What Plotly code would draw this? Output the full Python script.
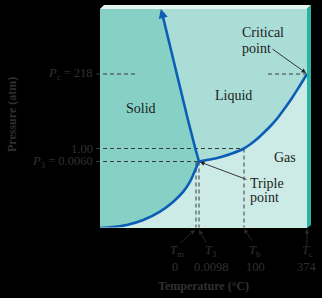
import plotly.graph_objects as go

# Schematic phase diagram of water (not to scale): positions in schematic units
# x: schematic temperature position, y: schematic pressure position
subl_x = [0, 10, 26.7, 43.3, 60, 73.3, 83.3, 90, 95, 99]
subl_y = [0, 0.6, 3, 8, 16.3, 26.3, 36.3, 46.3, 57.5, 66.5]

fus_x = [99, 95.3, 88, 74.6, 63]
fus_y = [66.5, 79.5, 108, 163, 211]
fus_tip = (61, 219)

vap_x = [99, 110, 121, 132, 143, 150, 157, 164, 171, 178, 185, 192, 199, 207]
vap_y = [66.5, 68.5, 71, 74.5, 79, 83.5, 89, 95.5, 102.5, 110.5, 120, 130, 141, 154]

# tick positions (schematic) and labels
t_pos = {"Tm": 96, "T3": 99, "Tb": 144, "Tc": 207}
t_sym = ["<i>T</i><sub>m</sub>", "<i>T</i><sub>3</sub>", "<i>T</i><sub>b</sub>", "<i>T</i><sub>c</sub>"]
t_val = ["0", "0.0098", "100", "374"]
p_pos = {"Pc": 154, "P1": 79.5, "P3": 66.5}
p_lab = ["<i>P</i><sub>c</sub> = 218", "1.00", "<i>P</i><sub>3</sub> = 0.0060"]

X0, X1, Y0, Y1 = 0, 207, 0, 219
XR = [-4, 211]
YR = [0, 223]

C_SOLID = "#86D0C5"
C_LIQ = "#A9DDD6"
C_GAS = "#CDEBE6"
C_CURVE = "#0B5DB5"
C_DASH = "#3a3a3a"
FONT = "Liberation Serif"

fig = go.Figure()
sp = dict(shape="spline", smoothing=0.8)

# gas region: below the vaporization and sublimation curves
fig.add_trace(go.Scatter(x=vap_x, y=vap_y, fill="tozeroy", fillcolor=C_GAS, mode="lines",
                         line=dict(width=0, **sp), hoverinfo="skip"))
fig.add_trace(go.Scatter(x=subl_x, y=subl_y, fill="tozeroy", fillcolor=C_GAS, mode="lines",
                         line=dict(width=0, **sp), hoverinfo="skip"))
# solid region: left of sublimation and fusion curves
fig.add_trace(go.Scatter(x=subl_x, y=subl_y, fill="tozerox", fillcolor=C_SOLID, mode="lines",
                         line=dict(width=0, **sp), hoverinfo="skip"))
fig.add_trace(go.Scatter(x=fus_x + [fus_tip[0]], y=fus_y + [fus_tip[1]], fill="tozerox",
                         fillcolor=C_SOLID, mode="lines", line=dict(width=0), hoverinfo="skip"))

dash = dict(color=C_DASH, width=1, dash="4px,3px")
tm, t3, tb, tc = t_pos["Tm"], t_pos["T3"], t_pos["Tb"], t_pos["Tc"]
pc, p1, p3 = p_pos["Pc"], p_pos["P1"], p_pos["P3"]
for xs, ys in [
    ([-4, 38], [pc, pc]),
    ([168, tc], [pc, pc]),
    ([-4, tb], [p1, p1]),
    ([-4, t3], [p3, p3]),
    ([tm, tm], [p3, 0]),
    ([t3, t3], [p3, 0]),
    ([tb, tb], [p1, 0]),
]:
    fig.add_trace(go.Scatter(x=xs, y=ys, mode="lines", line=dash, hoverinfo="skip"))

curve = dict(color=C_CURVE, width=2.6)
fig.add_trace(go.Scatter(x=subl_x, y=subl_y, mode="lines", line=dict(**curve, **sp), hoverinfo="skip"))
fig.add_trace(go.Scatter(x=vap_x, y=vap_y, mode="lines", line=dict(**curve, **sp), hoverinfo="skip"))
fig.add_trace(go.Scatter(x=fus_x, y=fus_y, mode="lines", line=curve, hoverinfo="skip"))

shapes = [
    dict(type="rect", x0=X0, x1=X1, y0=Y0, y1=Y1, fillcolor=C_LIQ, line_width=0, layer="below"),
    dict(type="path", path=f"M{X0},{Y1} L{X0+4},{Y1+4} L{X1+4},{Y1+4} L{X1},{Y1} Z",
         fillcolor="#E3F4F1", line_width=0, layer="above"),
    dict(type="path", path=f"M{X1},{Y1} L{X1+4},{Y1+4} L{X1+4},{Y0+3} L{X1},{Y0} Z",
         fillcolor="#2BB3A0", line_width=0, layer="above"),
    dict(type="line", x0=X0, x1=X1, y0=Y0, y1=Y0, line=dict(color="#D2F2CC", width=1), layer="above"),
]

def to_paper(x, y):
    return (x - XR[0]) / (XR[1] - XR[0]), (y - YR[0]) / (YR[1] - YR[0])

ann = []
def txt(x, y, s, size=14, color="#1c1c1c", xanchor="center", **kw):
    px, py = to_paper(x, y)
    ann.append(dict(x=px, y=py, xref="paper", yref="paper", text=s, showarrow=False,
                    xanchor=xanchor, yanchor="middle",
                    font=dict(family=FONT, size=size, color=color), **kw))

def arr(tip, tail, color="#222", width=0.9, head=2, size=1.0):
    px, py = to_paper(*tip)
    ann.append(dict(x=px, y=py, xref="paper", yref="paper",
                    ax=tail[0] - tip[0], ay=-(tail[1] - tip[1]),
                    text="", showarrow=True, arrowhead=head, arrowsize=size,
                    arrowwidth=width, arrowcolor=color))

# fusion arrow head
arr(fus_tip, (fus_x[-1], fus_y[-1]), color=C_CURVE, width=2.6, head=2, size=0.7)

# region labels
txt(41, 120, "Solid")
txt(133, 132, "Liquid")
txt(185, 71, "Gas")
txt(140, 196, "Critical", xanchor="left")
txt(140, 180, "point", xanchor="left")
arr((206, 155), (171, 180))
txt(148, 45, "Triple", xanchor="left")
txt(148, 31, "point", xanchor="left")
arr((100, 66), (148, 48))

# y tick labels
OUT = "#303030"
for lab, yv in zip(p_lab, [pc, p1, p3]):
    txt(-5, yv, lab, size=12.5, color=OUT, xanchor="right")
txt(-88, 113, "<b>Pressure (atm)</b>", size=12, color=OUT, textangle=-90)

# x tick labels with arrows
lab_x = [77, 111, 155, 207]
tails = [(79, -16), (107, -16), (153, -14), (207, -19)]
tips = [(tm - 1, -2), (t3, -2), (tb, -1), (tc, -1)]
for s, v, lx_, tl, tp in zip(t_sym, t_val, lab_x, tails, tips):
    txt(lx_, -23, s, size=12.5, color=OUT)
    txt(lx_ - (2 if v == "0" else 0), -39, v, size=12.5, color=OUT)
    arr(tp, tl, color="#2a2a2a", width=0.9, head=2, size=1.0)
txt(103, -58, "<b>Temperature (°C)</b>", size=12, color=OUT)

fig.update_layout(
    width=322, height=298,
    margin=dict(l=96, r=11, t=5, b=70),
    paper_bgcolor="black", plot_bgcolor="black",
    showlegend=False,
    xaxis=dict(range=XR, visible=False, fixedrange=True),
    yaxis=dict(range=YR, visible=False, fixedrange=True),
    shapes=shapes, annotations=ann,
)
fig.write_html("out.html")
